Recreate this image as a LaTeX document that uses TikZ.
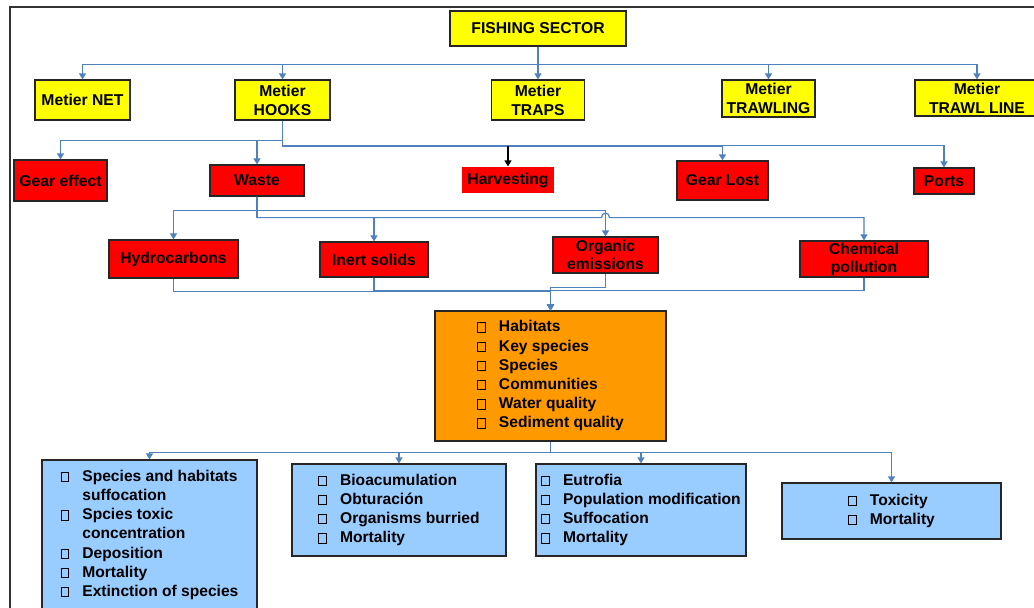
\documentclass[tikz,border=0pt]{standalone}
\usepackage{fontspec}
\setmainfont{Liberation Sans}
\usetikzlibrary{arrows.meta,calc}
\definecolor{linkblue}{RGB}{79,129,189}
\definecolor{yel}{RGB}{255,255,0}
\definecolor{redb}{RGB}{255,0,0}
\definecolor{orab}{RGB}{255,153,0}
\definecolor{lblue}{RGB}{153,204,255}
\newcommand\sqb{{\setlength\fboxsep{0pt}\setlength\fboxrule{0.9pt}\fbox{\rule{0pt}{8.5pt}\hspace{7pt}}}}
\newcommand\lst[1]{\fontsize{15.6}{19.2}\selectfont\begin{tabular}{@{}l@{\hspace{13pt}}l@{}}#1\end{tabular}}
\begin{document}
\begin{tikzpicture}[x=1pt,y=-1pt,
  base/.style={draw=black!85, line width=1.2pt, inner sep=0pt, align=center,
    font=\fontsize{15.7}{19}\selectfont\bfseries, text=black},
  yb/.style={base, fill=yel},
  rb/.style={base, fill=redb},
  ob/.style={base, fill=orab},
  bb/.style={base, fill=lblue},
  arr/.style={draw=linkblue, line width=1.2pt, -{Triangle[length=6pt,width=7pt]}},
  blarr/.style={draw=black, line width=1.2pt, -{Triangle[length=6pt,width=7pt]}},
  frame/.style={draw=black!80, line width=1.2pt}
]
\useasboundingbox (0,0) rectangle (1034,608);
\clip (0,0) rectangle (1034,608);
\fill[white] (0,0) rectangle (1034,608);
\draw[frame] (10,620) -- (10,7) -- (1050,7);

% level 0 / 1
\node[yb, minimum width=176pt, minimum height=35pt] (fs) at (538,28.5) {FISHING SECTOR};
\node[yb, minimum width=95pt, minimum height=40pt] (net) at (82.5,100) {Metier NET};
\node[yb, minimum width=95pt, minimum height=40pt] (hooks) at (282.5,100) {Metier\\HOOKS};
\node[yb, minimum width=93pt, minimum height=40pt] (traps) at (538,100) {Metier\\TRAPS};
\node[yb, minimum width=93pt, minimum height=37pt] (trawling) at (768.5,98.5) {Metier\\TRAWLING};
\node[yb, minimum width=124pt, minimum height=36pt] (trawlline) at (977,98) {Metier\\TRAWL LINE};

% level 2
\node[rb, minimum width=93pt, minimum height=41pt] (gear) at (60.5,180.5) {Gear effect};
\node[rb, minimum width=94pt, minimum height=31pt] (waste) at (257,180.5) {Waste};
\node[rb, draw=none, minimum width=92pt, minimum height=26pt] (harv) at (508,180) {Harvesting};
\node[rb, minimum width=91pt, minimum height=39pt] (lost) at (722.5,180.5) {Gear Lost};
\node[rb, minimum width=60pt, minimum height=26pt] (ports) at (944,181) {Ports};

% level 3
\node[rb, minimum width=129pt, minimum height=38pt] (hydro) at (173.5,259) {Hydrocarbons};
\node[rb, minimum width=108pt, minimum height=35pt] (inert) at (374,259.5) {Inert solids};
\node[rb, minimum width=105pt, minimum height=36pt, font=\fontsize{15.7}{18}\selectfont\bfseries] (org) at (605.5,255) {Organic\\emissions};
\node[rb, minimum width=128pt, minimum height=36pt, font=\fontsize{15.7}{18}\selectfont\bfseries] (chem) at (864,259) {Chemical\\pollution};

% receptors
\node[ob, minimum width=231pt, minimum height=130pt] (hab) at (550.5,376) {\lst{
 \sqb & Habitats\\ \sqb & Key species\\ \sqb & Species\\ \sqb & Communities\\ \sqb & Water quality\\ \sqb & Sediment quality}};

% effects
\node[bb, minimum width=215pt, minimum height=150pt] (e1) at (149.5,535) {\lst{
 \sqb & Species and habitats\\ & suffocation\\ \sqb & Spcies toxic\\ & concentration\\ \sqb & Deposition\\ \sqb & Mortality\\ \sqb & Extinction of species}};
\node[bb, minimum width=214pt, minimum height=92pt] (e2) at (399,510) {\lst{
 \sqb & Bioacumulation\\ \sqb & Obturación\\ \sqb & Organisms burried\\ \sqb & Mortality}};
\node[bb, minimum width=210pt, minimum height=92pt] (e3) at (641,510) {\lst{
 \sqb & Eutrofia\\ \sqb & Population modification\\ \sqb & Suffocation\\ \sqb & Mortality}};
\node[bb, minimum width=219pt, minimum height=56pt] (e4) at (891.5,511) {\lst{
 \sqb & Toxicity\\ \sqb & Mortality}};

% connectors: sector -> metiers
\draw[arr] (fs.south) -- ++(0,18) -| (net.north);
\draw[arr] (fs.south) -- ++(0,18) -| (hooks.north);
\draw[arr] (fs.south) -- (traps.north);
\draw[arr] (fs.south) -- ++(0,18) -| (trawling.north);
\draw[arr] (fs.south) -- ++(0,18) -| (trawlline.north);

% hooks -> level 2
\draw[arr] (hooks.south) -- ++(0,20) -| (gear.north);
\draw[arr] (hooks.south) -- ++(0,20) -| (waste.north);
\draw[arr, line width=1.8pt] (hooks.south) -- ++(0,25) coordinate (hbus) -| (lost.north);
\draw[arr] (hooks.south) -- ++(0,25) -| (ports.north);
\draw[blarr] (hbus -| harv.north) -- (harv.north);

% waste -> level 3
\draw[arr] (waste.south) -- ++(0,14) -| (hydro.north);
\draw[arr] (waste.south) -- ++(0,14) -| (org.north);
\draw[arr, line width=1.5pt] (waste.south) -- ++(0,21) -| (inert.north);
\draw[arr] (waste.south) -- ++(0,21) coordinate (wb) -- ($(wb -| org.north)+(-4,0)$)
   .. controls +(0,-6) and +(0,-6) .. ++(8,0) -| (chem.north);

% level 3 -> receptors
\draw[arr] (hydro.south) -- ++(0,13) -| (hab.north);
\draw[arr, line width=1.5pt] (inert.south) -- ++(0,13) -| (hab.north);
\draw[arr] (org.south) -- ++(0,14) -| (hab.north);
\draw[arr] (chem.south) -- ++(0,13) -| (hab.north);

% receptors -> effects
\draw[arr] (hab.south) -- ++(0,11) -| (e1.north);
\draw[arr] (hab.south) -- ++(0,11) -| (e2.north);
\draw[arr] (hab.south) -- ++(0,11) -| (e3.north);
\draw[arr] (hab.south) -- ++(0,11) -| (e4.north);
\end{tikzpicture}
\end{document}
